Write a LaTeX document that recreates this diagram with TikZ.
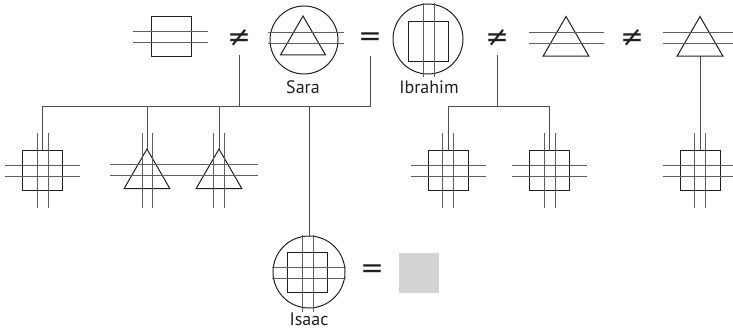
\documentclass[tikz,border=0pt]{standalone}
\usepackage{fontspec}
\setmainfont{PT Sans}
\newfontfamily\symfont{DejaVu Sans}
\usetikzlibrary{shapes.geometric}
\definecolor{ink}{HTML}{231F20}
\definecolor{crossc}{HTML}{5E5F62}
\definecolor{linkc}{HTML}{4D4D4F}
\definecolor{blankc}{HTML}{D1D3D4}
\tikzset{
 person/.style={draw=ink, line width=1pt, inner sep=0pt, outer sep=0pt},
 male/.style={person, rectangle, minimum size=40pt},
 female/.style={person, regular polygon, regular polygon sides=3, minimum size=53pt},
 ring/.style={person, circle, minimum size=70pt},
 cross/.style={draw=crossc, line width=1pt},
 link/.style={draw=linkc, line width=1pt},
 rel/.style={font=\symfont\fontsize{28}{28}\selectfont, inner sep=0pt, minimum height=34pt, text=ink},
 lbl/.style={font=\fontsize{18}{18}\selectfont, text=ink, inner sep=0pt},
}
\begin{document}
\begin{tikzpicture}[x=1pt,y=-1pt]
\useasboundingbox (0,0) rectangle (733,331);
% ---------- top row ----------
\node[male] (p1) at (171,36.5) {};
\draw[cross] (133,32) -- (208,32) (133,43) -- (208,43);
\node[rel] (neq1) at (239,38) {≠};
\node[ring, minimum size=68pt] (sara) at (304,40) {};
\node[female, minimum size=52pt] (saraT) at (303,42) {};
\draw[cross] (268,33) -- (344,33) (268,44) -- (344,44);
\node[lbl] (saraL) at (303,87) {Sara};
\node[rel] (eq1) at (370,39) {=};
\node[ring] (ibr) at (428,39) {};
\node[male] (ibrS) at (428,42) {};
\draw[cross] (423,3) -- (423,77) (434,3) -- (434,77);
\node[lbl] (ibrL) at (429,87) {Ibrahim};
\node[rel] (neq2) at (497,38) {≠};
\node[female] (p5) at (566,43) {};
\draw[cross] (529,33) -- (604,33) (529,44) -- (604,44);
\node[rel] (neq3) at (632,38) {≠};
\node[female] (p6) at (700,43) {};
\draw[cross] (663,33) -- (733,33) (663,44) -- (733,44);
% ---------- children ----------
\node[male] (c1) at (42,171) {};
\draw[cross] (37,133) -- (37,208) (48,133) -- (48,208) (5,166) -- (80,166) (5,177) -- (80,177);
\node[female] (c2) at (147,175.5) {};
\draw[cross] (142,133) -- (142,208) (152,133) -- (152,208) (110,165) -- (185,165) (110,176) -- (185,176);
\node[female] (c3) at (219,175.5) {};
\draw[cross] (213,133) -- (213,208) (224,133) -- (224,208) (185,165) -- (258,165) (185,176) -- (258,176);
\node[male] (c4) at (448,171) {};
\draw[cross] (442,133) -- (442,208) (453,133) -- (453,208) (411,166) -- (486,166) (411,177) -- (486,177);
\node[male] (c5) at (549,171) {};
\draw[cross] (544,133) -- (544,208) (555,133) -- (555,208) (512,166) -- (587,166) (512,177) -- (587,177);
\node[male] (c6) at (700,171) {};
\draw[cross] (694,133) -- (694,208) (705,133) -- (705,208) (663,166) -- (733,166) (663,177) -- (733,177);
% ---------- Isaac ----------
\node[ring, minimum size=72pt] (isaac) at (309,272) {};
\node[male] (isaacS) at (307,272) {};
\draw[cross] (302,235) -- (302,312) (313,235) -- (313,312) (272,267) -- (346,267) (272,278) -- (346,278);
\node[lbl] (isaacL) at (309,319) {Isaac};
\node[rel] (eq2) at (372,271) {=};
\node[fill=blankc, minimum size=40pt, inner sep=0pt] (spouse) at (419,273) {};
% ---------- connectors ----------
\coordinate (busA) at (0,107);
\draw[link] (eq1.south) -- (eq1.south |- busA) -| (c1.north);
\draw[link] (neq1.south) -- (neq1.south |- busA);
\draw[link] (c2.corner 1) -- (c2.corner 1 |- busA);
\draw[link] (c3.corner 1) -- (c3.corner 1 |- busA);
\draw[link] (isaac.north) -- (isaac.north |- busA);
\draw[link] (neq2.south) -- (neq2.south |- busA);
\draw[link] (c4.north) |- (c5.north |- busA) -- (c5.north);
\draw[link] (p6.side 2) -- (c6.north);
\end{tikzpicture}
\end{document}
